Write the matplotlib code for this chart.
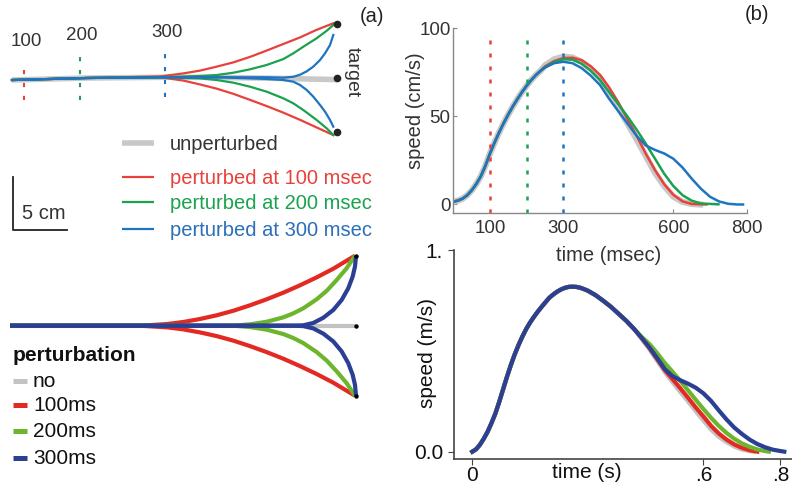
import matplotlib
matplotlib.use('Agg')
import matplotlib.pyplot as plt

plt.rcParams['font.family'] = ['Liberation Sans', 'DejaVu Sans']
plt.rcParams['lines.solid_joinstyle'] = 'round'

# ---------------- (a) measured hand paths, cm from the start point ----------------
gray_a_x = [0, 7, 14.6, 20, 26, 30.66]
gray_a_y = [-0.19, 0.0, 0.07, 0.05, -0.05, -0.15]

red_a_x = [0, 7, 14.0, 16.2, 17.7, 19.3, 20.9, 22.5, 24.0, 25.6, 27.2, 28.7, 30.3]
red_a_up = [-0.19, 0.0, 0.15, 0.44, 0.69, 1.07, 1.48, 2.01, 2.58, 3.21, 3.84, 4.53, 5.16]
red_a_dn = [-0.19, 0.0, 0.07, -0.25, -0.6, -1.0, -1.5, -2.08, -2.64, -3.27, -3.96, -4.65, -5.38]

green_a_x = [0, 7, 14, 17.74, 19.31, 20.88, 22.45, 24.03, 25.6, 26.54, 27.48, 28.74, 29.69, 30.31]
green_a_up = [-0.19, 0.0, 0.07, 0.19, 0.28, 0.5, 0.82, 1.23, 1.79, 2.33, 2.95, 3.75, 4.46, 5.0]
green_a_dn = [-0.19, 0.0, 0.07, -0.03, -0.19, -0.44, -0.82, -1.29, -1.92, -2.39, -3.02, -3.96, -4.75, -5.38]

blue_a_x = [0, 7, 14, 20, 24.03, 25.6, 26.54, 27.17, 27.8, 28.42, 29.06, 29.53, 30.0, 30.31]
blue_a_up = [-0.19, 0.0, 0.07, 0.07, 0.07, 0.03, 0.12, 0.31, 0.63, 1.07, 1.7, 2.33, 3.11, 4.06]
blue_a_dn = [-0.19, 0.0, 0.07, 0.05, -0.09, -0.19, -0.35, -0.66, -1.13, -1.76, -2.55, -3.18, -3.96, -4.59]

target_a_x = [30.7, 30.7, 30.7]
target_a_y = [5.1, 0.0, -5.05]

pert_labels = ['100', '200', '300']
pert_x_a = [1.13, 6.42, 14.43]  # hand position at perturbation time

legend_a = ['unperturbed', 'perturbed at 100 msec', 'perturbed at 200 msec', 'perturbed at 300 msec']

# ---------------- (b) measured speed, cm/s vs msec ----------------
t_b = [0, 12.5, 25, 37.5, 50, 62.5, 75, 87.5, 100, 112.5, 125, 137.5, 150, 162.5, 175, 187.5,
       200, 212.5, 225, 237.5,
       250, 275, 300, 325, 350, 375, 400, 425, 450, 475, 500, 525, 550, 575, 600, 625, 650,
       675, 700, 725, 750, 775, 790]
rise_b = [1.6, 2.2, 3.3, 5.2, 8, 11.6, 16, 22, 29, 35.2, 41, 46.3, 51.2, 55.8, 60, 63.9,
          67.5, 70.7, 73.5, 75.9]
v_gray_b = rise_b + [79, 82.5, 84, 83.5, 81, 77, 72, 64, 55, 46, 37, 27.5, 18, 10.5, 4.5, 1.5, 0.3, 0]
v_red_b = rise_b + [78.5, 81.5, 83.2, 83.4, 82, 78.5, 73.6, 66.5, 58, 48.5, 39, 28.8, 19.5, 11.5,
                    5.5, 1.8, 0.3, 0]
v_green_b = rise_b + [78, 81, 82.5, 82.3, 80, 76, 70.7, 63.8, 57, 50, 42.5, 34.5, 26, 17.5, 10.5,
                      5.3, 2.2, 0.6, 0.1]
v_blue_b = rise_b + [77.8, 80.3, 81.1, 80.3, 77.5, 73.2, 67.9, 60, 53, 46, 39, 33.5, 31, 29, 26,
                     21, 14.7, 9, 4.4, 1.7, 0.4, 0, 0]
end_b = [673, 690, 723]  # gray, red, green end times

# ---------------- (c) model hand paths ----------------
gray_c_x = [0, 25.26]
gray_c_y = [0, 0]
red_c_x = [0, 9.49, 11.45, 12.65, 13.87, 15.09, 16.3, 17.52, 18.74, 19.95, 21.17, 22.39, 23.6, 25.18]
red_c_y = [0, 0, 0.12, 0.27, 0.49, 0.76, 1.09, 1.49, 1.93, 2.41, 2.95, 3.53, 4.16, 5.11]
green_c_x = [0, 16.3, 17.52, 18.74, 19.95, 20.68, 21.41, 22.39, 23.12, 23.85, 24.57, 25.18]
green_c_y = [0, 0, 0.1, 0.29, 0.61, 0.9, 1.27, 1.93, 2.55, 3.34, 4.19, 5.11]
blue_c_x = [0, 20.68, 21.41, 22.14, 22.87, 23.6, 24.21, 24.69, 25.01, 25.18, 25.26]
blue_c_y = [0, 0, 0.03, 0.2, 0.58, 1.15, 1.88, 2.73, 3.58, 4.31, 5.11]
target_c_x = [25.26, 25.26, 25.26]
target_c_y = [5.11, 0, -5.11]
legend_c = ['no', '100ms', '200ms', '300ms']

# ---------------- (d) model speed, m/s vs s ----------------
t_d = [0, .01, .02, .03, .04, .05, .06, .07, .08, .09, .10, .11, .12, .13, .14, .15, .16, .17,
       .18, .19, .20, .21, .22, .23, .24, .25, .26, .27, .28, .29, .30,
       .32, .34, .36, .38, .40, .42, .44, .46, .48, .50, .52, .54, .56, .58, .60, .62, .64, .66,
       .68, .70, .72, .74, .76, .78, .80, .81]
rise_d = [0.0, 0.012, 0.035, 0.065, 0.10, 0.143, 0.19, 0.248, 0.31, 0.372, 0.43, 0.483, 0.53,
          0.572, 0.61, 0.642, 0.67, 0.696, 0.72, 0.743, 0.765, 0.781, 0.795, 0.806, 0.814, 0.819,
          0.82, 0.819, 0.815, 0.808, 0.80,
          0.778, 0.75, 0.72, 0.685, 0.65, 0.61]
v_gray_d = rise_d + [0.56, 0.508, 0.452, 0.395, 0.345, 0.297, 0.25, 0.202, 0.155, 0.11, 0.074,
                     0.048, 0.026, 0.011, 0.003]
v_red_d = rise_d + [0.565, 0.515, 0.46, 0.405, 0.36, 0.315, 0.268, 0.22, 0.175, 0.128, 0.09, 0.06,
                    0.036, 0.019, 0.007, 0]
v_green_d = rise_d + [0.57, 0.535, 0.49, 0.44, 0.397, 0.352, 0.305, 0.258, 0.212, 0.168, 0.128,
                      0.093, 0.064, 0.041, 0.024, 0.011, 0.003]
v_blue_d = rise_d + [0.565, 0.518, 0.465, 0.41, 0.375, 0.355, 0.338, 0.318, 0.29, 0.252, 0.205,
                     0.16, 0.12, 0.088, 0.06, 0.038, 0.022, 0.01, 0.003, 0.0]
end_d = [0.73, 0.77]  # gray, green end times

# colours
RED_A, GREEN_A, BLUE_A, GRAY_A = '#e8413c', '#1aa24f', '#1f74c0', '#c8c8c8'
RED_C, GREEN_C, BLUE_C, GRAY_C = '#e32a22', '#6cb52d', '#2b3f95', '#c3c3c3'
TXT = '#333333'

W, H = 792.0, 490.0


def px_box(x0, y0, x1, y1):
    # pixel box (origin top-left) -> figure rect
    return [x0 / W, 1 - y1 / H, (x1 - x0) / W, (y1 - y0) / H]


fig = plt.figure(figsize=(7.92, 4.90), dpi=100)

# ---- panel (a)
ax = fig.add_axes(px_box(0, 0, 400, 240))
ax.set_xlim(-1.132, 36.60)
ax.set_ylim(-15.28, 7.358)
ax.axis('off')
ax.plot(gray_a_x, gray_a_y, color=GRAY_A, lw=4, solid_capstyle='butt')
for xs, up, dn, c in [(red_a_x, red_a_up, red_a_dn, RED_A),
                      (green_a_x, green_a_up, green_a_dn, GREEN_A),
                      (blue_a_x, blue_a_up, blue_a_dn, BLUE_A)]:
    ax.plot(xs, up, color=c, lw=1.6)
    ax.plot(xs, dn, color=c, lw=1.6)
ax.plot(target_a_x, target_a_y, 'o', color='#222222', ms=4.5)
mark_top = [0.75, 2.64, 2.83]
mark_bot = [-2.08, -2.08, -1.79]
label_y = [3.42, 4.0, 4.3]
for lab, x, c, yt, yb, yl in zip(pert_labels, pert_x_a, [RED_A, GREEN_A, BLUE_A],
                                 mark_top, mark_bot, label_y):
    ax.plot([x, x], [yb, yt], color=c, lw=1.5, ls=(0, (2, 4.2)))
    ax.text(x + 0.2, yl, lab, ha='center', va='center', fontsize=13.5, color=TXT)
ax.text(32.1, 0.55, 'target', rotation=270, ha='center', va='center', fontsize=14, color=TXT)

leg_y = [-6.15, -9.35, -11.7, -14.25]
leg_c = [GRAY_A, RED_A, GREEN_A, BLUE_A]
leg_tc = [TXT, RED_A, GREEN_A, '#2a6fb8']
leg_lw = [4, 1.6, 1.6, 1.6]
for lab, y, c, tc, lw in zip(legend_a, leg_y, leg_c, leg_tc, leg_lw):
    ax.plot([10.38, 13.35], [y, y], color=c, lw=lw, solid_capstyle='butt')
    ax.text(14.9, y - 0.1, lab, ha='left', va='center', fontsize=14.5, color=tc)

# scale bar 5 cm
ax.plot([0.07, 0.07, 5.2], [-9.34, -14.34, -14.34], color='#222222', lw=1.3)
ax.text(0.94, -12.75, '5 cm', ha='left', va='center', fontsize=14.5, color=TXT)

# ---- panel (b)
ax = fig.add_axes(px_box(453.3, 28.5, 746.7, 213.3))
ax.patch.set_visible(False)
ax.plot(t_b[:len(v_gray_b) - 1] + [end_b[0]], v_gray_b, color=GRAY_A, lw=4.5)
ax.plot(t_b[:len(v_red_b) - 1] + [end_b[1]], v_red_b, color=RED_A, lw=1.8)
ax.plot(t_b[:len(v_green_b) - 1] + [end_b[2]], v_green_b, color=GREEN_A, lw=1.8)
ax.plot(t_b[:len(v_blue_b)], v_blue_b, color=BLUE_A, lw=1.8)
for tp, c in zip([100, 200, 300], [RED_A, GREEN_A, BLUE_A]):
    ax.plot([tp, tp], [-5, 97], color=c, lw=1.8, ls=(0, (1.6, 3.6)))
ax.set_xlim(0, 800)
ax.set_ylim(-5, 100)
for s in ['top', 'right']:
    ax.spines[s].set_visible(False)
for s in ['left', 'bottom']:
    ax.spines[s].set_color('#888888')
    ax.spines[s].set_linewidth(1.0)
ax.set_xticks([100, 300, 600, 800])
ax.set_yticks([0, 50, 100])
ax.tick_params(direction='in', length=3, color='#888888', labelcolor=TXT, labelsize=13.5)
ax.tick_params(axis='x', pad=5)
ax.tick_params(axis='y', pad=2)
ax.set_xlabel('time (msec)', fontsize=14.5, color=TXT)
ax.xaxis.set_label_coords(0.531, -0.231)
ax.xaxis.label.set_va('center')
ax.set_ylabel('speed (cm/s)', fontsize=14.5, color=TXT)
ax.yaxis.set_label_coords(-0.1305, 0.555)
ax.yaxis.label.set_va('center')

fig.text(372 / W, 1 - 17 / H, '(a)', ha='center', va='center', fontsize=14.5, color='#222222')
fig.text(757 / W, 1 - 15 / H, '(b)', ha='center', va='center', fontsize=14.5, color='#222222')

# ---- panel (c)
ax = fig.add_axes(px_box(0, 240, 400, 490))
ax.patch.set_visible(False)
ax.set_xlim(-0.730, 28.467)
ax.set_ylim(-11.993, 6.255)
ax.axis('off')
ax.plot(gray_c_x, gray_c_y, color=GRAY_C, lw=3, solid_capstyle='butt')
for xs, ys, c in [(red_c_x, red_c_y, RED_C), (green_c_x, green_c_y, GREEN_C),
                  (blue_c_x, blue_c_y, BLUE_C)]:
    ax.plot(xs, ys, color=c, lw=3, solid_capstyle='butt')
    ax.plot(xs, [-v for v in ys], color=c, lw=3, solid_capstyle='butt')
ax.plot(target_c_x, target_c_y, 'o', color='black', ms=2.2)
ax.text(0.22, -2.2, 'perturbation', ha='left', va='center', fontsize=15, fontweight='bold',
        color='#111111')
leg_c_y = [-4.07, -5.82, -7.72, -9.66]
for lab, y, c in zip(legend_c, leg_c_y, [GRAY_C, RED_C, GREEN_C, BLUE_C]):
    ax.plot([0.22, 1.24], [y, y], color=c, lw=3.6, solid_capstyle='butt')
    ax.text(1.68, y, lab, ha='left', va='center', fontsize=15, color='#111111')

# ---- panel (d)
ax = fig.add_axes(px_box(454, 250.5, 792, 459.3))
ax.patch.set_visible(False)
ax.plot(t_d[:len(v_gray_d)] + [end_d[0]], v_gray_d + [0], color=GRAY_C, lw=3.2)
ax.plot(t_d[:len(v_red_d)], v_red_d, color=RED_C, lw=3)
ax.plot(t_d[:len(v_green_d)] + [end_d[1]], v_green_d + [0], color=GREEN_C, lw=3)
ax.plot(t_d[:len(v_blue_d)], v_blue_d, color=BLUE_C, lw=3)
ax.set_xlim(-0.0475, 0.83)
ax.set_ylim(-0.038, 1.0)
for s in ['top', 'right']:
    ax.spines[s].set_visible(False)
for s in ['left', 'bottom']:
    ax.spines[s].set_color('#444444')
    ax.spines[s].set_linewidth(1.2)
ax.set_xticks([0, 0.6, 0.8])
ax.set_xticklabels(['0', '.6', '.8'])
ax.set_yticks([0, 1])
ax.set_yticklabels(['0.0', '1.'])
ax.tick_params(direction='out', length=4, color='#444444', labelcolor='#111111', labelsize=15)
ax.tick_params(axis='x', pad=1)
ax.tick_params(axis='y', pad=4)
ax.set_xlabel('time (s)', fontsize=15, color='#111111')
ax.xaxis.set_label_coords(0.393, -0.061)
ax.xaxis.label.set_va('center')
ax.set_ylabel('speed (m/s)', fontsize=15, color='#111111')
ax.yaxis.set_label_coords(-0.077, 0.509)
ax.yaxis.label.set_va('center')

fig.savefig('out.png', dpi=100)
